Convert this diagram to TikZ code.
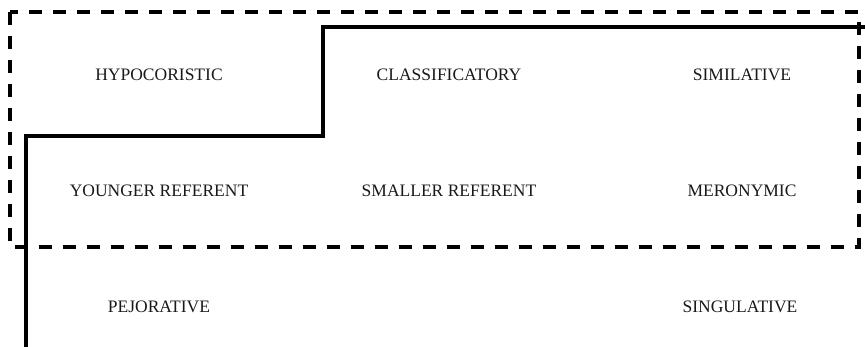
\documentclass[tikz,border=0pt]{standalone}
\usepackage{fontspec}
\setmainfont{Liberation Serif}
\begin{document}
\begin{tikzpicture}[x=1pt,y=-1pt,
  lbl/.style={font=\fontsize{17.5}{20}\selectfont, inner sep=0pt, anchor=center, text=black!90},
  frame/.style={line width=3.1pt, dash pattern=on 13pt off 11pt},
  stair/.style={line width=3.1pt}]
\useasboundingbox (0,0) rectangle (865,347);

% dashed region
\draw[frame] (10,12) rectangle (859,247);

% stepped boundary line
\coordinate (s0) at (26,347);
\coordinate (s1) at (26,136);
\coordinate (s2) at (323,136);
\coordinate (s3) at (323,27);
\coordinate (s4) at (865,27);
\draw[stair] (s0) -- (s1) -- (s2) -- (s3) -- (s4);

% labels
\node[lbl] (hyp) at (159,75) {HYPOCORISTIC};
\node[lbl] (cla) at (449,75) {CLASSIFICATORY};
\node[lbl] (sim) at (742,75) {SIMILATIVE};
\node[lbl] (you) at (159,191) {YOUNGER REFERENT};
\node[lbl] (sma) at (449,191) {SMALLER REFERENT};
\node[lbl] (mer) at (742,191) {MERONYMIC};
\node[lbl] (pej) at (159,307) {PEJORATIVE};
\node[lbl] (sin) at (740,307) {SINGULATIVE};
\end{tikzpicture}
\end{document}
